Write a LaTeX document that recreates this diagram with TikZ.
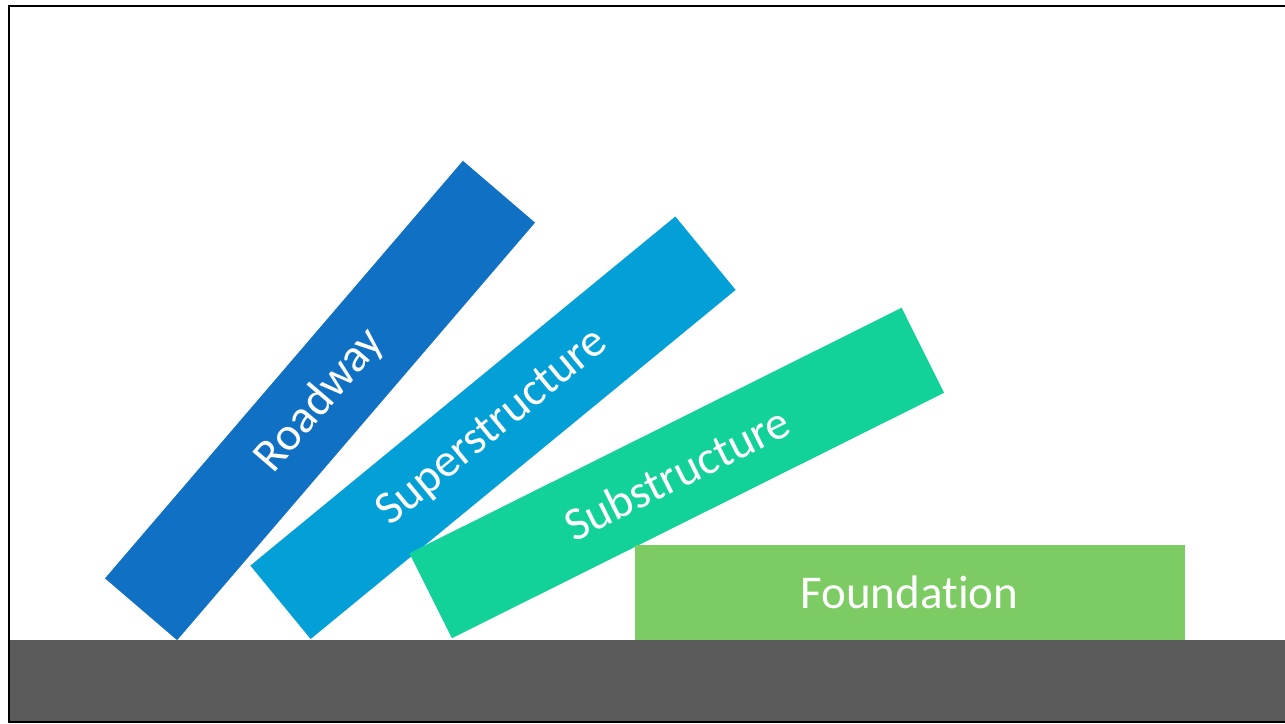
\documentclass[tikz,border=0pt]{standalone}
\usepackage{fontspec}
\setmainfont{Carlito}[Ligatures=NoCommon]
\usepackage{xcolor}
\definecolor{roadblue}{HTML}{1070C4}
\definecolor{superblue}{HTML}{03A0D8}
\definecolor{subgreen}{HTML}{12D29A}
\definecolor{foundgreen}{HTML}{7DCB63}
\definecolor{groundgray}{HTML}{5A5A5A}

\begin{document}
\begin{tikzpicture}[
    x=1pt, y=1pt,
    bar/.style={rectangle, inner sep=0pt, minimum width=550pt, minimum height=95pt,
      text=white, font=\fontsize{47}{56}\selectfont}
  ]
\useasboundingbox (0,0) rectangle (1285,723);

% Bars
\node[bar, fill=roadblue, rotate=49.4] (road) at (320,322.5) {Roadway};
\node[bar, fill=superblue, rotate=39.4] (super) at (493,295.25) {Superstructure};
\node[bar, fill=subgreen, rotate=26.5] (sub) at (676.75,250) {Substructure};
\node[bar, fill=foundgreen] (found) at (909.5,130.5) {Foundation};

% Ground
\node[rectangle, inner sep=0pt, fill=groundgray, minimum width=1275pt, minimum height=82pt,
  anchor=south west] (ground) at (10,1) {};

% Frame
\begin{scope}
\clip (0,0) rectangle (1285,723);
\draw[line width=2.5pt] (9,1) rectangle (1300,717);
\end{scope}

\end{tikzpicture}
\end{document}
